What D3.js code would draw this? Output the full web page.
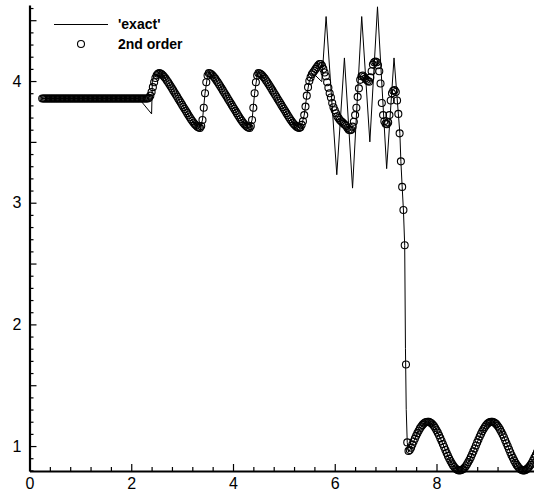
<!DOCTYPE html>
<html>
<head>
<meta charset="utf-8">
<script src="https://cdn.jsdelivr.net/npm/d3@7"></script>
<style>
  body { margin: 0; background: #fff; }
  svg { display: block; }
  .tick text { font-family: "Liberation Sans", Arial, Helvetica, sans-serif; }
</style>
</head>
<body>
<div id="chart"></div>
<script>
// 2nd order scheme: cell values on a uniform grid starting at x0 with spacing dx
var x0 = 0.25, dx = 0.025;
var rho2nd = [
  3.857,3.857,3.857,3.857,3.857,3.857,3.857,3.857,3.857,3.857,
  3.857,3.857,3.857,3.857,3.857,3.857,3.857,3.857,3.857,3.857,
  3.857,3.857,3.857,3.857,3.857,3.857,3.857,3.857,3.857,3.857,
  3.857,3.857,3.857,3.857,3.857,3.857,3.857,3.857,3.857,3.857,
  3.857,3.857,3.857,3.857,3.857,3.857,3.857,3.857,3.857,3.857,
  3.857,3.857,3.857,3.857,3.857,3.857,3.857,3.857,3.857,3.857,
  3.857,3.857,3.857,3.857,3.857,3.857,3.857,3.857,3.857,3.857,
  3.857,3.857,3.857,3.857,3.857,3.857,3.857,3.857,3.857,3.857,
  3.857,3.857,3.857,3.857,3.862,3.88,3.91,3.95,3.99,4.025,
  4.048,4.06,4.065,4.062,4.055,4.045,4.033,4.02,4.005,3.99,
  3.974,3.957,3.94,3.923,3.906,3.889,3.872,3.855,3.838,3.821,
  3.804,3.787,3.77,3.753,3.736,3.719,3.702,3.686,3.671,3.657,
  3.645,3.634,3.625,3.619,3.615,3.63,3.68,3.78,3.90,3.99,
  4.045,4.065,4.062,4.055,4.045,4.033,4.02,4.005,3.99,3.974,
  3.957,3.94,3.923,3.906,3.889,3.872,3.855,3.838,3.821,3.804,
  3.787,3.77,3.753,3.736,3.719,3.702,3.686,3.671,3.657,3.645,
  3.634,3.625,3.619,3.615,3.63,3.68,3.78,3.90,3.99,4.045,
  4.065,4.062,4.055,4.045,4.033,4.02,4.005,3.99,3.974,3.957,
  3.94,3.923,3.906,3.889,3.872,3.855,3.838,3.821,3.804,3.787,
  3.77,3.753,3.736,3.719,3.702,3.686,3.671,3.657,3.645,3.634,
  3.625,3.619,3.615,3.62,3.64,3.67,3.72,3.79,3.88,3.95,
  4.00,4.03,4.055,4.07,4.085,4.10,4.115,4.13,4.14,4.14,
  4.125,4.10,4.07,4.04,3.99,3.945,3.90,3.865,3.82,3.785,
  3.76,3.735,3.71,3.695,3.68,3.67,3.66,3.65,3.64,3.63,
  3.615,3.60,3.595,3.60,3.625,3.665,3.72,3.78,3.87,3.94,
  4.01,4.04,4.045,4.035,4.02,4.01,4.00,3.995,4.03,4.08,
  4.135,4.155,4.16,4.155,4.13,4.08,3.98,3.82,3.72,3.67,
  3.65,3.645,3.66,3.72,3.84,3.90,3.92,3.925,3.91,3.84,
  3.73,3.57,3.34,3.13,2.94,2.65,1.67,1.03,0.96,0.968,
  0.987,1.012,1.037,1.061,1.084,1.106,1.126,1.145,1.161,1.174,
  1.185,1.193,1.198,1.200,1.199,1.194,1.187,1.177,1.164,1.148,
  1.130,1.110,1.088,1.065,1.041,1.016,0.992,0.967,0.942,0.919,
  0.897,0.877,0.858,0.841,0.827,0.816,0.807,0.802,0.800,0.801,
  0.805,0.811,0.822,0.834,0.850,0.868,0.887,0.909,0.932,0.956,
  0.980,1.005,1.030,1.054,1.078,1.100,1.121,1.140,1.157,1.171,
  1.183,1.191,1.197,1.200,1.199,1.196,1.189,1.180,1.167,1.152,
  1.135,1.116,1.094,1.072,1.048,1.023,0.998,0.973,0.949,0.925,
  0.903,0.882,0.862,0.845,0.831,0.818,0.809,0.803,0.800,0.800,
  0.804,0.810,0.819,0.831,0.845,0.863,0.882,0.903,0.925,0.949,
  0.974
];

// 'exact' curve, as drawn (polyline vertices)
var exactX = [0.25,2.15,2.40,2.415,2.45,2.55,2.65,2.75,2.85,2.95,3.05,3.15,3.25,3.35,3.40,3.45,3.50,3.525,
  3.625,3.725,3.825,3.925,4.025,4.125,4.225,4.325,4.375,4.425,4.475,4.50,
  4.60,4.70,4.80,4.90,5.00,5.10,5.20,5.30,5.35,5.40,5.45,5.50,5.55,5.61,5.745,
  5.83,6.04,6.19,6.35,6.53,6.69,6.84,7.02,7.165,
  7.25,7.28,7.30,7.325,7.35,7.375,7.39,7.405,7.425,7.45,
  7.50,7.55,7.60,7.65,7.70,7.75,7.80,7.85,7.90,7.95,8.00,8.05,8.10,8.15,8.20,8.25,8.30,8.35,8.40,8.45,
  8.50,8.55,8.60,8.65,8.70,8.75,8.80,8.85,8.90,8.95,9.00,9.05,9.10,9.15,9.20,9.25,9.30,9.35,9.40,9.45,
  9.50,9.55,9.60,9.65,9.70,9.75,9.80,9.85,9.90,9.95,10.0];
var exactY = [3.857,3.857,3.73,4.0,4.04,4.065,4.033,3.974,3.906,3.838,3.77,3.702,3.645,3.615,3.68,3.90,4.045,4.065,
  4.033,3.974,3.906,3.838,3.77,3.702,3.645,3.615,3.68,3.90,4.045,4.065,
  4.033,3.974,3.906,3.838,3.77,3.702,3.645,3.615,3.64,3.72,3.88,4.00,4.04,4.05,3.995,
  4.53,3.23,4.19,3.12,4.53,3.50,4.61,3.28,4.19,
  3.73,3.57,3.34,3.13,2.94,2.65,1.8,1.3,1.03,0.95,
  0.987,1.037,1.084,1.126,1.161,1.185,1.198,1.199,1.187,1.164,1.130,1.088,1.041,0.992,0.942,0.897,0.858,0.827,0.807,0.800,
  0.805,0.822,0.850,0.887,0.932,0.980,1.030,1.078,1.121,1.157,1.183,1.197,1.199,1.189,1.167,1.135,1.094,1.048,0.998,0.949,
  0.903,0.862,0.831,0.809,0.800,0.804,0.819,0.845,0.882,0.925,0.974];

var xTickLabels = [0, 2, 4, 6, 8];
var yTickLabels = [1, 2, 3, 4];
var yHalfTicks = [1.5, 2.5, 3.5, 4.5];

var W = 534, H = 494;
var fontFam = '"Liberation Sans", Arial, Helvetica, sans-serif';

var svg = d3.select("#chart").append("svg")
  .attr("width", W)
  .attr("height", H);
svg.append("rect").attr("width", W).attr("height", H).attr("fill", "#fff");

var x = d3.scaleLinear().domain([0, 10]).range([29.5, 538.25]);
var y = d3.scaleLinear().domain([0.795, 4.625]).range([471, 5]);

// minor ticks
var xMinor = d3.range(0, 10.01, 0.4).filter(function(v){ return Math.abs(v/2 - Math.round(v/2)) > 1e-6; });
var yMinor = d3.range(8, 47, 1).map(function(v){ return v/10; })
  .filter(function(v){ return Math.abs(v*2 - Math.round(v*2)) > 1e-6; });

svg.append("g").attr("transform", "translate(0,471)")
  .call(d3.axisBottom(x).tickValues(xMinor).tickSize(-4).tickSizeOuter(0).tickFormat(""))
  .call(function(g){ g.select(".domain").remove(); g.selectAll("line").attr("stroke-width", 1.2); });

svg.append("g").attr("transform", "translate(29.5,0)")
  .call(d3.axisLeft(y).tickValues(yMinor).tickSize(-4).tickSizeOuter(0).tickFormat(""))
  .call(function(g){ g.select(".domain").remove(); g.selectAll("line").attr("stroke-width", 1.2); });

svg.append("g").attr("transform", "translate(29.5,0)")
  .call(d3.axisLeft(y).tickValues(yHalfTicks).tickSize(-7).tickSizeOuter(0).tickFormat(""))
  .call(function(g){ g.select(".domain").remove(); g.selectAll("line").attr("stroke-width", 1.2); });

// major axes
svg.append("g").attr("transform", "translate(0,471)")
  .call(d3.axisBottom(x).tickValues(xTickLabels).tickSize(-7).tickSizeOuter(0).tickPadding(7).tickFormat(d3.format("d")))
  .call(function(g){
    g.select(".domain").attr("stroke-width", 2.2);
    g.selectAll("line").attr("stroke-width", 1.2);
    g.selectAll("text").attr("font-size", 16).attr("fill", "#000");
  });

svg.append("g").attr("transform", "translate(29.5,0)")
  .call(d3.axisLeft(y).tickValues(yTickLabels).tickSize(-7).tickSizeOuter(0).tickPadding(8).tickFormat(d3.format("d")))
  .call(function(g){
    g.select(".domain").attr("stroke-width", 2.2);
    g.selectAll("line").attr("stroke-width", 1.2);
    g.selectAll("text").attr("font-size", 16).attr("fill", "#000");
  });

// exact line
var line = d3.line()
  .x(function(d){ return x(d[0]); })
  .y(function(d){ return y(d[1]); });

svg.append("path")
  .datum(exactX.map(function(v, i){ return [v, exactY[i]]; }))
  .attr("d", line)
  .attr("fill", "none")
  .attr("stroke", "#000")
  .attr("stroke-width", 1);

// 2nd order symbols
svg.selectAll("circle.pt")
  .data(rho2nd)
  .enter()
  .append("circle")
    .attr("class", "pt")
    .attr("cx", function(d, i){ return x(x0 + i*dx); })
    .attr("cy", function(d){ return y(d); })
    .attr("r", 3.5)
    .attr("fill", "none")
    .attr("stroke", "#000")
    .attr("stroke-width", 1.1);

// legend
var leg = svg.append("g");
leg.append("line")
  .attr("x1", 54).attr("x2", 108).attr("y1", 24.5).attr("y2", 24.5)
  .attr("stroke", "#000").attr("stroke-width", 1);
leg.append("circle")
  .attr("cx", 81).attr("cy", 44).attr("r", 3.5)
  .attr("fill", "none").attr("stroke", "#000").attr("stroke-width", 1.1);
leg.append("text")
  .attr("x", 118).attr("y", 29)
  .attr("font-family", fontFam).attr("font-weight", "bold").attr("font-size", 14)
  .text("'exact'");
leg.append("text")
  .attr("x", 118).attr("y", 49)
  .attr("font-family", fontFam).attr("font-weight", "bold").attr("font-size", 14)
  .text("2nd order");
</script>
</body>
</html>
